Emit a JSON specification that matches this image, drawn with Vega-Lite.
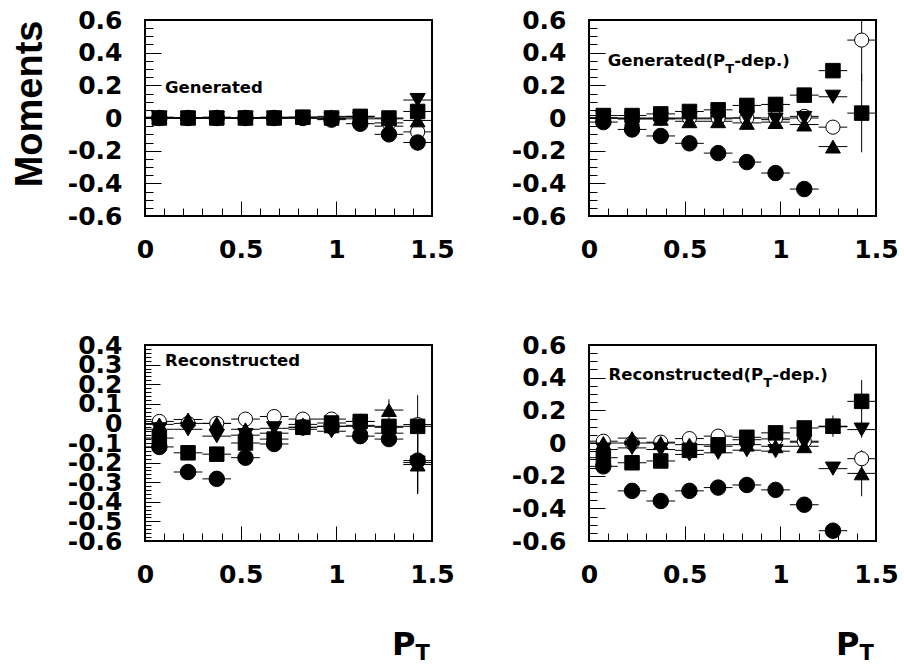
{
  "$schema": "https://vega.github.io/schema/vega-lite/v6.json",
  "padding": {"left": 9, "top": 7, "right": 5, "bottom": 5},
  "background": "white",
  "bounds": "flush",
  "columns": 2,
  "spacing": {"row": 129, "column": 157},
  "config": {
    "view": {"stroke": "black", "strokeWidth": 2},
    "axis": {
      "labelFont": "DejaVu Sans",
      "labelFontSize": 25,
      "labelFontWeight": "bold",
      "labelColor": "black",
      "tickColor": "black",
      "tickWidth": 1,
      "grid": false,
      "domain": false,
      "titleColor": "black",
      "titleFontWeight": "bold"
    },
    "text": {"font": "DejaVu Sans", "fontWeight": "bold", "color": "black"}
  },
  "datasets": {
    "moments": [
      {"panel":"gen","series":"open","pt":0.075,"dpt":0.075,"v":0,"err":0.005},
      {"panel":"gen","series":"open","pt":0.225,"dpt":0.075,"v":0,"err":0.005},
      {"panel":"gen","series":"open","pt":0.375,"dpt":0.075,"v":0,"err":0.005},
      {"panel":"gen","series":"open","pt":0.525,"dpt":0.075,"v":0,"err":0.005},
      {"panel":"gen","series":"open","pt":0.675,"dpt":0.075,"v":0,"err":0.005},
      {"panel":"gen","series":"open","pt":0.825,"dpt":0.075,"v":0,"err":0.005},
      {"panel":"gen","series":"open","pt":0.975,"dpt":0.075,"v":0,"err":0.005},
      {"panel":"gen","series":"open","pt":1.125,"dpt":0.075,"v":0.005,"err":0.01},
      {"panel":"gen","series":"open","pt":1.275,"dpt":0.075,"v":-0.03,"err":0.02},
      {"panel":"gen","series":"open","pt":1.425,"dpt":0.075,"v":-0.085,"err":0.04},
      {"panel":"genpt","series":"open","pt":0.075,"dpt":0.075,"v":0,"err":0.005},
      {"panel":"genpt","series":"open","pt":0.225,"dpt":0.075,"v":0,"err":0.005},
      {"panel":"genpt","series":"open","pt":0.375,"dpt":0.075,"v":0,"err":0.005},
      {"panel":"genpt","series":"open","pt":0.525,"dpt":0.075,"v":0,"err":0.005},
      {"panel":"genpt","series":"open","pt":0.675,"dpt":0.075,"v":0,"err":0.005},
      {"panel":"genpt","series":"open","pt":0.825,"dpt":0.075,"v":0,"err":0.005},
      {"panel":"genpt","series":"open","pt":0.975,"dpt":0.075,"v":0,"err":0.005},
      {"panel":"genpt","series":"open","pt":1.125,"dpt":0.075,"v":0.01,"err":0.008},
      {"panel":"genpt","series":"open","pt":1.275,"dpt":0.075,"v":-0.056,"err":0.03},
      {"panel":"genpt","series":"open","pt":1.425,"dpt":0.075,"v":0.477,"err":0.25},
      {"panel":"rec","series":"open","pt":0.075,"dpt":0.075,"v":0.01,"err":0.008},
      {"panel":"rec","series":"open","pt":0.225,"dpt":0.075,"v":0,"err":0.008},
      {"panel":"rec","series":"open","pt":0.375,"dpt":0.075,"v":0,"err":0.008},
      {"panel":"rec","series":"open","pt":0.525,"dpt":0.075,"v":0.022,"err":0.008},
      {"panel":"rec","series":"open","pt":0.675,"dpt":0.075,"v":0.035,"err":0.008},
      {"panel":"rec","series":"open","pt":0.825,"dpt":0.075,"v":0.022,"err":0.008},
      {"panel":"rec","series":"open","pt":0.975,"dpt":0.075,"v":0.022,"err":0.008},
      {"panel":"rec","series":"open","pt":1.125,"dpt":0.075,"v":0.01,"err":0.008},
      {"panel":"rec","series":"open","pt":1.275,"dpt":0.075,"v":-0.02,"err":0.02},
      {"panel":"rec","series":"open","pt":1.425,"dpt":0.075,"v":-0.006,"err":0.15},
      {"panel":"recpt","series":"open","pt":0.075,"dpt":0.075,"v":0.011,"err":0.008},
      {"panel":"recpt","series":"open","pt":0.225,"dpt":0.075,"v":0,"err":0.008},
      {"panel":"recpt","series":"open","pt":0.375,"dpt":0.075,"v":0.005,"err":0.008},
      {"panel":"recpt","series":"open","pt":0.525,"dpt":0.075,"v":0.027,"err":0.008},
      {"panel":"recpt","series":"open","pt":0.675,"dpt":0.075,"v":0.042,"err":0.008},
      {"panel":"recpt","series":"open","pt":0.825,"dpt":0.075,"v":0.02,"err":0.008},
      {"panel":"recpt","series":"open","pt":0.975,"dpt":0.075,"v":0.025,"err":0.008},
      {"panel":"recpt","series":"open","pt":1.125,"dpt":0.075,"v":0.011,"err":0.008},
      {"panel":"recpt","series":"open","pt":1.275,"dpt":0.075,"v":0.1,"err":0.02},
      {"panel":"recpt","series":"open","pt":1.425,"dpt":0.075,"v":-0.096,"err":0.05},

      {"panel":"gen","series":"square","pt":0.075,"dpt":0.075,"v":0,"err":0.005},
      {"panel":"gen","series":"square","pt":0.225,"dpt":0.075,"v":0,"err":0.005},
      {"panel":"gen","series":"square","pt":0.375,"dpt":0.075,"v":0,"err":0.005},
      {"panel":"gen","series":"square","pt":0.525,"dpt":0.075,"v":0,"err":0.005},
      {"panel":"gen","series":"square","pt":0.675,"dpt":0.075,"v":0,"err":0.005},
      {"panel":"gen","series":"square","pt":0.825,"dpt":0.075,"v":0.005,"err":0.005},
      {"panel":"gen","series":"square","pt":0.975,"dpt":0.075,"v":0,"err":0.005},
      {"panel":"gen","series":"square","pt":1.125,"dpt":0.075,"v":0.01,"err":0.01},
      {"panel":"gen","series":"square","pt":1.275,"dpt":0.075,"v":0,"err":0.015},
      {"panel":"gen","series":"square","pt":1.425,"dpt":0.075,"v":0.04,"err":0.03},
      {"panel":"genpt","series":"square","pt":0.075,"dpt":0.075,"v":0.015,"err":0.005},
      {"panel":"genpt","series":"square","pt":0.225,"dpt":0.075,"v":0.015,"err":0.005},
      {"panel":"genpt","series":"square","pt":0.375,"dpt":0.075,"v":0.025,"err":0.005},
      {"panel":"genpt","series":"square","pt":0.525,"dpt":0.075,"v":0.04,"err":0.005},
      {"panel":"genpt","series":"square","pt":0.675,"dpt":0.075,"v":0.05,"err":0.005},
      {"panel":"genpt","series":"square","pt":0.825,"dpt":0.075,"v":0.077,"err":0.008},
      {"panel":"genpt","series":"square","pt":0.975,"dpt":0.075,"v":0.083,"err":0.008},
      {"panel":"genpt","series":"square","pt":1.125,"dpt":0.075,"v":0.14,"err":0.01},
      {"panel":"genpt","series":"square","pt":1.275,"dpt":0.075,"v":0.29,"err":0.03},
      {"panel":"genpt","series":"square","pt":1.425,"dpt":0.075,"v":0.03,"err":0.24},
      {"panel":"rec","series":"square","pt":0.075,"dpt":0.075,"v":-0.075,"err":0.008},
      {"panel":"rec","series":"square","pt":0.225,"dpt":0.075,"v":-0.15,"err":0.008},
      {"panel":"rec","series":"square","pt":0.375,"dpt":0.075,"v":-0.157,"err":0.008},
      {"panel":"rec","series":"square","pt":0.525,"dpt":0.075,"v":-0.1,"err":0.008},
      {"panel":"rec","series":"square","pt":0.675,"dpt":0.075,"v":-0.08,"err":0.008},
      {"panel":"rec","series":"square","pt":0.825,"dpt":0.075,"v":-0.02,"err":0.008},
      {"panel":"rec","series":"square","pt":0.975,"dpt":0.075,"v":0.002,"err":0.008},
      {"panel":"rec","series":"square","pt":1.125,"dpt":0.075,"v":0.01,"err":0.008},
      {"panel":"rec","series":"square","pt":1.275,"dpt":0.075,"v":-0.015,"err":0.015},
      {"panel":"rec","series":"square","pt":1.425,"dpt":0.075,"v":-0.015,"err":0.03},
      {"panel":"recpt","series":"square","pt":0.075,"dpt":0.075,"v":-0.09,"err":0.008},
      {"panel":"recpt","series":"square","pt":0.225,"dpt":0.075,"v":-0.121,"err":0.008},
      {"panel":"recpt","series":"square","pt":0.375,"dpt":0.075,"v":-0.11,"err":0.008},
      {"panel":"recpt","series":"square","pt":0.525,"dpt":0.075,"v":-0.045,"err":0.008},
      {"panel":"recpt","series":"square","pt":0.675,"dpt":0.075,"v":-0.011,"err":0.008},
      {"panel":"recpt","series":"square","pt":0.825,"dpt":0.075,"v":0.035,"err":0.008},
      {"panel":"recpt","series":"square","pt":0.975,"dpt":0.075,"v":0.062,"err":0.008},
      {"panel":"recpt","series":"square","pt":1.125,"dpt":0.075,"v":0.092,"err":0.01},
      {"panel":"recpt","series":"square","pt":1.275,"dpt":0.075,"v":0.103,"err":0.065},
      {"panel":"recpt","series":"square","pt":1.425,"dpt":0.075,"v":0.255,"err":0.13},

      {"panel":"gen","series":"up","pt":0.075,"dpt":0.075,"v":0.005,"err":0.005},
      {"panel":"gen","series":"up","pt":0.225,"dpt":0.075,"v":0,"err":0.005},
      {"panel":"gen","series":"up","pt":0.375,"dpt":0.075,"v":0.005,"err":0.005},
      {"panel":"gen","series":"up","pt":0.525,"dpt":0.075,"v":0,"err":0.005},
      {"panel":"gen","series":"up","pt":0.675,"dpt":0.075,"v":0.005,"err":0.005},
      {"panel":"gen","series":"up","pt":0.825,"dpt":0.075,"v":0.005,"err":0.005},
      {"panel":"gen","series":"up","pt":0.975,"dpt":0.075,"v":0.01,"err":0.005},
      {"panel":"gen","series":"up","pt":1.125,"dpt":0.075,"v":0.01,"err":0.01},
      {"panel":"gen","series":"up","pt":1.275,"dpt":0.075,"v":-0.005,"err":0.015},
      {"panel":"gen","series":"up","pt":1.425,"dpt":0.075,"v":-0.015,"err":0.03},
      {"panel":"genpt","series":"up","pt":0.075,"dpt":0.075,"v":0,"err":0.005},
      {"panel":"genpt","series":"up","pt":0.225,"dpt":0.075,"v":-0.005,"err":0.005},
      {"panel":"genpt","series":"up","pt":0.375,"dpt":0.075,"v":-0.005,"err":0.005},
      {"panel":"genpt","series":"up","pt":0.525,"dpt":0.075,"v":-0.02,"err":0.005},
      {"panel":"genpt","series":"up","pt":0.675,"dpt":0.075,"v":-0.02,"err":0.005},
      {"panel":"genpt","series":"up","pt":0.825,"dpt":0.075,"v":-0.03,"err":0.008},
      {"panel":"genpt","series":"up","pt":0.975,"dpt":0.075,"v":-0.025,"err":0.008},
      {"panel":"genpt","series":"up","pt":1.125,"dpt":0.075,"v":-0.04,"err":0.01},
      {"panel":"genpt","series":"up","pt":1.275,"dpt":0.075,"v":-0.175,"err":0.03},
      {"panel":"rec","series":"up","pt":0.075,"dpt":0.075,"v":-0.005,"err":0.008},
      {"panel":"rec","series":"up","pt":0.225,"dpt":0.075,"v":0.02,"err":0.008},
      {"panel":"rec","series":"up","pt":0.375,"dpt":0.075,"v":0,"err":0.008},
      {"panel":"rec","series":"up","pt":0.525,"dpt":0.075,"v":-0.03,"err":0.008},
      {"panel":"rec","series":"up","pt":0.675,"dpt":0.075,"v":-0.05,"err":0.008},
      {"panel":"rec","series":"up","pt":0.825,"dpt":0.075,"v":-0.005,"err":0.008},
      {"panel":"rec","series":"up","pt":0.975,"dpt":0.075,"v":-0.015,"err":0.008},
      {"panel":"rec","series":"up","pt":1.125,"dpt":0.075,"v":-0.015,"err":0.008},
      {"panel":"rec","series":"up","pt":1.275,"dpt":0.075,"v":0.068,"err":0.055},
      {"panel":"rec","series":"up","pt":1.425,"dpt":0.075,"v":-0.21,"err":0.15},
      {"panel":"recpt","series":"up","pt":0.075,"dpt":0.075,"v":0,"err":0.008},
      {"panel":"recpt","series":"up","pt":0.225,"dpt":0.075,"v":0.03,"err":0.008},
      {"panel":"recpt","series":"up","pt":0.375,"dpt":0.075,"v":0,"err":0.008},
      {"panel":"recpt","series":"up","pt":0.525,"dpt":0.075,"v":-0.01,"err":0.008},
      {"panel":"recpt","series":"up","pt":0.675,"dpt":0.075,"v":-0.02,"err":0.008},
      {"panel":"recpt","series":"up","pt":0.825,"dpt":0.075,"v":-0.01,"err":0.008},
      {"panel":"recpt","series":"up","pt":0.975,"dpt":0.075,"v":-0.02,"err":0.008},
      {"panel":"recpt","series":"up","pt":1.125,"dpt":0.075,"v":-0.02,"err":0.01},
      {"panel":"recpt","series":"up","pt":1.275,"dpt":0.075,"v":0.1,"err":0.02},
      {"panel":"recpt","series":"up","pt":1.425,"dpt":0.075,"v":-0.186,"err":0.14},

      {"panel":"gen","series":"down","pt":0.075,"dpt":0.075,"v":0,"err":0.005},
      {"panel":"gen","series":"down","pt":0.225,"dpt":0.075,"v":0,"err":0.005},
      {"panel":"gen","series":"down","pt":0.375,"dpt":0.075,"v":0,"err":0.005},
      {"panel":"gen","series":"down","pt":0.525,"dpt":0.075,"v":0,"err":0.005},
      {"panel":"gen","series":"down","pt":0.675,"dpt":0.075,"v":0,"err":0.005},
      {"panel":"gen","series":"down","pt":0.825,"dpt":0.075,"v":0,"err":0.005},
      {"panel":"gen","series":"down","pt":0.975,"dpt":0.075,"v":-0.005,"err":0.005},
      {"panel":"gen","series":"down","pt":1.125,"dpt":0.075,"v":-0.005,"err":0.01},
      {"panel":"gen","series":"down","pt":1.275,"dpt":0.075,"v":-0.05,"err":0.015},
      {"panel":"gen","series":"down","pt":1.425,"dpt":0.075,"v":0.11,"err":0.03},
      {"panel":"genpt","series":"down","pt":0.075,"dpt":0.075,"v":0,"err":0.005},
      {"panel":"genpt","series":"down","pt":0.225,"dpt":0.075,"v":-0.005,"err":0.005},
      {"panel":"genpt","series":"down","pt":0.375,"dpt":0.075,"v":-0.005,"err":0.005},
      {"panel":"genpt","series":"down","pt":0.525,"dpt":0.075,"v":-0.005,"err":0.005},
      {"panel":"genpt","series":"down","pt":0.675,"dpt":0.075,"v":-0.005,"err":0.005},
      {"panel":"genpt","series":"down","pt":0.825,"dpt":0.075,"v":0,"err":0.008},
      {"panel":"genpt","series":"down","pt":0.975,"dpt":0.075,"v":-0.01,"err":0.008},
      {"panel":"genpt","series":"down","pt":1.125,"dpt":0.075,"v":0,"err":0.01},
      {"panel":"genpt","series":"down","pt":1.275,"dpt":0.075,"v":0.13,"err":0.03},
      {"panel":"rec","series":"down","pt":0.075,"dpt":0.075,"v":-0.03,"err":0.008},
      {"panel":"rec","series":"down","pt":0.225,"dpt":0.075,"v":-0.03,"err":0.008},
      {"panel":"rec","series":"down","pt":0.375,"dpt":0.075,"v":-0.065,"err":0.008},
      {"panel":"rec","series":"down","pt":0.525,"dpt":0.075,"v":-0.06,"err":0.008},
      {"panel":"rec","series":"down","pt":0.675,"dpt":0.075,"v":-0.025,"err":0.008},
      {"panel":"rec","series":"down","pt":0.825,"dpt":0.075,"v":-0.03,"err":0.008},
      {"panel":"rec","series":"down","pt":0.975,"dpt":0.075,"v":-0.04,"err":0.008},
      {"panel":"rec","series":"down","pt":1.125,"dpt":0.075,"v":-0.01,"err":0.008},
      {"panel":"rec","series":"down","pt":1.275,"dpt":0.075,"v":-0.05,"err":0.015},
      {"panel":"rec","series":"down","pt":1.425,"dpt":0.075,"v":-0.2,"err":0.15},
      {"panel":"recpt","series":"down","pt":0.075,"dpt":0.075,"v":-0.04,"err":0.008},
      {"panel":"recpt","series":"down","pt":0.225,"dpt":0.075,"v":-0.03,"err":0.008},
      {"panel":"recpt","series":"down","pt":0.375,"dpt":0.075,"v":-0.04,"err":0.008},
      {"panel":"recpt","series":"down","pt":0.525,"dpt":0.075,"v":-0.07,"err":0.008},
      {"panel":"recpt","series":"down","pt":0.675,"dpt":0.075,"v":-0.06,"err":0.008},
      {"panel":"recpt","series":"down","pt":0.825,"dpt":0.075,"v":-0.044,"err":0.008},
      {"panel":"recpt","series":"down","pt":0.975,"dpt":0.075,"v":-0.05,"err":0.008},
      {"panel":"recpt","series":"down","pt":1.125,"dpt":0.075,"v":0.005,"err":0.01},
      {"panel":"recpt","series":"down","pt":1.275,"dpt":0.075,"v":-0.157,"err":0.03},
      {"panel":"recpt","series":"down","pt":1.425,"dpt":0.075,"v":0.082,"err":0.05},

      {"panel":"gen","series":"circle","pt":0.075,"dpt":0.075,"v":0,"err":0.005},
      {"panel":"gen","series":"circle","pt":0.225,"dpt":0.075,"v":0,"err":0.005},
      {"panel":"gen","series":"circle","pt":0.375,"dpt":0.075,"v":0,"err":0.005},
      {"panel":"gen","series":"circle","pt":0.525,"dpt":0.075,"v":0,"err":0.005},
      {"panel":"gen","series":"circle","pt":0.675,"dpt":0.075,"v":0,"err":0.005},
      {"panel":"gen","series":"circle","pt":0.825,"dpt":0.075,"v":0,"err":0.005},
      {"panel":"gen","series":"circle","pt":0.975,"dpt":0.075,"v":-0.01,"err":0.005},
      {"panel":"gen","series":"circle","pt":1.125,"dpt":0.075,"v":-0.035,"err":0.01},
      {"panel":"gen","series":"circle","pt":1.275,"dpt":0.075,"v":-0.1,"err":0.02},
      {"panel":"gen","series":"circle","pt":1.425,"dpt":0.075,"v":-0.15,"err":0.05},
      {"panel":"genpt","series":"circle","pt":0.075,"dpt":0.075,"v":-0.025,"err":0.005},
      {"panel":"genpt","series":"circle","pt":0.225,"dpt":0.075,"v":-0.07,"err":0.005},
      {"panel":"genpt","series":"circle","pt":0.375,"dpt":0.075,"v":-0.11,"err":0.005},
      {"panel":"genpt","series":"circle","pt":0.525,"dpt":0.075,"v":-0.155,"err":0.005},
      {"panel":"genpt","series":"circle","pt":0.675,"dpt":0.075,"v":-0.215,"err":0.005},
      {"panel":"genpt","series":"circle","pt":0.825,"dpt":0.075,"v":-0.27,"err":0.008},
      {"panel":"genpt","series":"circle","pt":0.975,"dpt":0.075,"v":-0.337,"err":0.008},
      {"panel":"genpt","series":"circle","pt":1.125,"dpt":0.075,"v":-0.435,"err":0.01},
      {"panel":"rec","series":"circle","pt":0.075,"dpt":0.075,"v":-0.12,"err":0.008},
      {"panel":"rec","series":"circle","pt":0.225,"dpt":0.075,"v":-0.248,"err":0.008},
      {"panel":"rec","series":"circle","pt":0.375,"dpt":0.075,"v":-0.283,"err":0.008},
      {"panel":"rec","series":"circle","pt":0.525,"dpt":0.075,"v":-0.175,"err":0.008},
      {"panel":"rec","series":"circle","pt":0.675,"dpt":0.075,"v":-0.105,"err":0.008},
      {"panel":"rec","series":"circle","pt":0.825,"dpt":0.075,"v":-0.02,"err":0.008},
      {"panel":"rec","series":"circle","pt":0.975,"dpt":0.075,"v":-0.015,"err":0.008},
      {"panel":"rec","series":"circle","pt":1.125,"dpt":0.075,"v":-0.065,"err":0.008},
      {"panel":"rec","series":"circle","pt":1.275,"dpt":0.075,"v":-0.08,"err":0.015},
      {"panel":"rec","series":"circle","pt":1.425,"dpt":0.075,"v":-0.19,"err":0.17},
      {"panel":"recpt","series":"circle","pt":0.075,"dpt":0.075,"v":-0.143,"err":0.008},
      {"panel":"recpt","series":"circle","pt":0.225,"dpt":0.075,"v":-0.293,"err":0.008},
      {"panel":"recpt","series":"circle","pt":0.375,"dpt":0.075,"v":-0.355,"err":0.008},
      {"panel":"recpt","series":"circle","pt":0.525,"dpt":0.075,"v":-0.293,"err":0.008},
      {"panel":"recpt","series":"circle","pt":0.675,"dpt":0.075,"v":-0.273,"err":0.008},
      {"panel":"recpt","series":"circle","pt":0.825,"dpt":0.075,"v":-0.257,"err":0.008},
      {"panel":"recpt","series":"circle","pt":0.975,"dpt":0.075,"v":-0.287,"err":0.008},
      {"panel":"recpt","series":"circle","pt":1.125,"dpt":0.075,"v":-0.378,"err":0.01},
      {"panel":"recpt","series":"circle","pt":1.275,"dpt":0.075,"v":-0.537,"err":0.02}
    ]
  },
  "concat": [
    {
      "width": 287, "height": 196,
      "data": {"name": "moments"},
      "resolve": {"axis": {"x": "independent", "y": "independent"}},
      "layer": [
        {
          "transform": [{"filter": {"field": "panel", "equal": "gen"}}],
          "mark": {"type": "errorbar", "color": "black", "thickness": 1, "clip": true},
          "encoding": {
            "x": {"field": "pt", "type": "quantitative", "scale": {"domain": [0, 1.5], "nice": false, "zero": false},
                  "axis": {"orient": "bottom", "values": [0, 0.5, 1, 1.5], "labelExpr": "'' + datum.value", "ticks": false, "labelPadding": 21, "labelBaseline": "top", "labelOverlap": false, "labelFlush": false, "title": null}},
            "xError": {"field": "dpt"},
            "y": {"field": "v", "type": "quantitative", "scale": {"domain": [-0.6, 0.6], "nice": false, "zero": false},
                  "axis": {"orient": "left", "values": [-0.6, -0.4, -0.2, 0, 0.2, 0.4, 0.6], "labelExpr": "'' + datum.value", "ticks": false, "labelPadding": 23, "labelAlign": "right", "labelBaseline": "middle", "labelOverlap": false, "labelFlush": false,
                           "title": "Moments", "titleFont": "Liberation Sans", "titleFontSize": 38, "titleAngle": -90, "titleAlign": "right", "titleBaseline": "alphabetic", "titleX": -104, "titleY": 0}}
          }
        },
        {
          "transform": [{"filter": {"field": "panel", "equal": "gen"}}],
          "mark": {"type": "errorbar", "color": "black", "thickness": 1, "clip": true},
          "encoding": {
            "x": {"field": "pt", "type": "quantitative", "scale": {"domain": [0, 1.5], "nice": false, "zero": false},
                  "axis": {"orient": "bottom", "values": [0, 0.5, 1, 1.5], "labels": false, "tickSize": 15, "offset": -15, "title": null}},
            "y": {"field": "v", "type": "quantitative", "scale": {"domain": [-0.6, 0.6], "nice": false, "zero": false},
                  "axis": {"orient": "left", "values": [-0.6, -0.4, -0.2, 0, 0.2, 0.4, 0.6], "labels": false, "tickSize": 16, "offset": -16, "title": null}},
            "yError": {"field": "err"}
          }
        },
        {
          "transform": [{"filter": {"field": "panel", "equal": "gen"}}],
          "mark": {"type": "point", "filled": true, "opacity": 1, "stroke": "black", "strokeWidth": 1},
          "encoding": {
            "x": {"field": "pt", "type": "quantitative", "scale": {"domain": [0, 1.5], "nice": false, "zero": false},
                  "axis": {"orient": "bottom", "values": [0.1, 0.2, 0.3, 0.4, 0.6, 0.7, 0.8, 0.9, 1.1, 1.2, 1.3, 1.4], "labels": false, "tickSize": 8, "offset": -8, "title": null}},
            "y": {"field": "v", "type": "quantitative", "scale": {"domain": [-0.6, 0.6], "nice": false, "zero": false},
                  "axis": {"orient": "left", "values": [-0.55, -0.5, -0.45, -0.35, -0.3, -0.25, -0.15, -0.1, -0.05, 0.05, 0.1, 0.15, 0.25, 0.3, 0.35, 0.45, 0.5, 0.55], "labels": false, "tickSize": 8, "offset": -8, "title": null}},
            "shape": {"field": "series", "scale": {"domain": ["open", "square", "up", "down", "circle"], "range": ["circle", "square", "triangle-up", "triangle-down", "circle"]}, "legend": null},
            "fill": {"field": "series", "scale": {"domain": ["open", "square", "up", "down", "circle"], "range": ["white", "black", "black", "black", "black"]}, "legend": null},
            "size": {"field": "series", "scale": {"domain": ["open", "square", "up", "down", "circle"], "range": [200, 240, 210, 210, 180]}, "legend": null}
          }
        },
        {
          "data": {"values": [{"label": "Generated"}]},
          "mark": {"type": "text", "align": "left", "baseline": "alphabetic", "fontSize": 16.5},
          "encoding": {
            "x": {"datum": 0.1045, "type": "quantitative", "scale": {"domain": [0, 1.5], "nice": false, "zero": false}, "axis": null},
            "y": {"datum": 0.155, "type": "quantitative", "scale": {"domain": [-0.6, 0.6], "nice": false, "zero": false}, "axis": null},
            "text": {"field": "label"}
          }
        }
      ]
    },
    {
      "width": 287, "height": 196,
      "data": {"name": "moments"},
      "resolve": {"axis": {"x": "independent", "y": "independent"}},
      "layer": [
        {
          "transform": [{"filter": {"field": "panel", "equal": "genpt"}}],
          "mark": {"type": "errorbar", "color": "black", "thickness": 1, "clip": true},
          "encoding": {
            "x": {"field": "pt", "type": "quantitative", "scale": {"domain": [0, 1.5], "nice": false, "zero": false},
                  "axis": {"orient": "bottom", "values": [0, 0.5, 1, 1.5], "labelExpr": "'' + datum.value", "ticks": false, "labelPadding": 21, "labelBaseline": "top", "labelOverlap": false, "labelFlush": false, "title": null}},
            "xError": {"field": "dpt"},
            "y": {"field": "v", "type": "quantitative", "scale": {"domain": [-0.6, 0.6], "nice": false, "zero": false},
                  "axis": {"orient": "left", "values": [-0.6, -0.4, -0.2, 0, 0.2, 0.4, 0.6], "labelExpr": "'' + datum.value", "ticks": false, "labelPadding": 23, "labelAlign": "right", "labelBaseline": "middle", "labelOverlap": false, "labelFlush": false, "title": null}}
          }
        },
        {
          "transform": [{"filter": {"field": "panel", "equal": "genpt"}}],
          "mark": {"type": "errorbar", "color": "black", "thickness": 1, "clip": true},
          "encoding": {
            "x": {"field": "pt", "type": "quantitative", "scale": {"domain": [0, 1.5], "nice": false, "zero": false},
                  "axis": {"orient": "bottom", "values": [0, 0.5, 1, 1.5], "labels": false, "tickSize": 15, "offset": -15, "title": null}},
            "y": {"field": "v", "type": "quantitative", "scale": {"domain": [-0.6, 0.6], "nice": false, "zero": false},
                  "axis": {"orient": "left", "values": [-0.6, -0.4, -0.2, 0, 0.2, 0.4, 0.6], "labels": false, "tickSize": 16, "offset": -16, "title": null}},
            "yError": {"field": "err"}
          }
        },
        {
          "transform": [{"filter": {"field": "panel", "equal": "genpt"}}],
          "mark": {"type": "point", "filled": true, "opacity": 1, "stroke": "black", "strokeWidth": 1},
          "encoding": {
            "x": {"field": "pt", "type": "quantitative", "scale": {"domain": [0, 1.5], "nice": false, "zero": false},
                  "axis": {"orient": "bottom", "values": [0.1, 0.2, 0.3, 0.4, 0.6, 0.7, 0.8, 0.9, 1.1, 1.2, 1.3, 1.4], "labels": false, "tickSize": 8, "offset": -8, "title": null}},
            "y": {"field": "v", "type": "quantitative", "scale": {"domain": [-0.6, 0.6], "nice": false, "zero": false},
                  "axis": {"orient": "left", "values": [-0.55, -0.5, -0.45, -0.35, -0.3, -0.25, -0.15, -0.1, -0.05, 0.05, 0.1, 0.15, 0.25, 0.3, 0.35, 0.45, 0.5, 0.55], "labels": false, "tickSize": 8, "offset": -8, "title": null}},
            "shape": {"field": "series", "scale": {"domain": ["open", "square", "up", "down", "circle"], "range": ["circle", "square", "triangle-up", "triangle-down", "circle"]}, "legend": null},
            "fill": {"field": "series", "scale": {"domain": ["open", "square", "up", "down", "circle"], "range": ["white", "black", "black", "black", "black"]}, "legend": null},
            "size": {"field": "series", "scale": {"domain": ["open", "square", "up", "down", "circle"], "range": [200, 240, 210, 210, 180]}, "legend": null}
          }
        },
        {
          "data": {"values": [{"label": "Generated(P"}]},
          "mark": {"type": "text", "align": "left", "baseline": "alphabetic", "fontSize": 16.5},
          "encoding": {
            "x": {"datum": 0.098, "type": "quantitative", "scale": {"domain": [0, 1.5], "nice": false, "zero": false}, "axis": null},
            "y": {"datum": 0.318, "type": "quantitative", "scale": {"domain": [-0.6, 0.6], "nice": false, "zero": false}, "axis": null},
            "text": {"field": "label"}
          }
        },
        {
          "data": {"values": [{"label": "T"}]},
          "mark": {"type": "text", "align": "left", "baseline": "alphabetic", "fontSize": 13},
          "encoding": {
            "x": {"datum": 0.712, "type": "quantitative", "scale": {"domain": [0, 1.5], "nice": false, "zero": false}, "axis": null},
            "y": {"datum": 0.275, "type": "quantitative", "scale": {"domain": [-0.6, 0.6], "nice": false, "zero": false}, "axis": null},
            "text": {"field": "label"}
          }
        },
        {
          "data": {"values": [{"label": "-dep.)"}]},
          "mark": {"type": "text", "align": "left", "baseline": "alphabetic", "fontSize": 16.5},
          "encoding": {
            "x": {"datum": 0.759, "type": "quantitative", "scale": {"domain": [0, 1.5], "nice": false, "zero": false}, "axis": null},
            "y": {"datum": 0.318, "type": "quantitative", "scale": {"domain": [-0.6, 0.6], "nice": false, "zero": false}, "axis": null},
            "text": {"field": "label"}
          }
        }
      ]
    },
    {
      "width": 287, "height": 196,
      "data": {"name": "moments"},
      "resolve": {"axis": {"x": "independent", "y": "independent"}},
      "layer": [
        {
          "transform": [{"filter": {"field": "panel", "equal": "rec"}}],
          "mark": {"type": "errorbar", "color": "black", "thickness": 1, "clip": true},
          "encoding": {
            "x": {"field": "pt", "type": "quantitative", "scale": {"domain": [0, 1.5], "nice": false, "zero": false},
                  "axis": {"orient": "bottom", "values": [0, 0.5, 1, 1.5], "labelExpr": "'' + datum.value", "ticks": false, "labelPadding": 21, "labelBaseline": "top", "labelOverlap": false, "labelFlush": false,
                           "title": "P", "titleFont": "DejaVu Sans", "titleFontSize": 32, "titleAlign": "left", "titleBaseline": "alphabetic", "titleX": 246.5, "titleY": 113}},
            "xError": {"field": "dpt"},
            "y": {"field": "v", "type": "quantitative", "scale": {"domain": [-0.6, 0.4], "nice": false, "zero": false},
                  "axis": {"orient": "left", "values": [-0.6, -0.5, -0.4, -0.3, -0.2, -0.1, 0, 0.1, 0.2, 0.3, 0.4], "labelExpr": "'' + datum.value", "ticks": false, "labelPadding": 23, "labelAlign": "right", "labelBaseline": "middle", "labelOverlap": false, "labelFlush": false, "title": null}}
          }
        },
        {
          "transform": [{"filter": {"field": "panel", "equal": "rec"}}],
          "mark": {"type": "errorbar", "color": "black", "thickness": 1, "clip": true},
          "encoding": {
            "x": {"field": "pt", "type": "quantitative", "scale": {"domain": [0, 1.5], "nice": false, "zero": false},
                  "axis": {"orient": "bottom", "values": [0, 0.5, 1, 1.5], "labels": false, "tickSize": 15, "offset": -15, "title": null}},
            "y": {"field": "v", "type": "quantitative", "scale": {"domain": [-0.6, 0.4], "nice": false, "zero": false},
                  "axis": {"orient": "left", "values": [-0.6, -0.5, -0.4, -0.3, -0.2, -0.1, 0, 0.1, 0.2, 0.3, 0.4], "labels": false, "tickSize": 15, "offset": -15, "title": null}},
            "yError": {"field": "err"}
          }
        },
        {
          "transform": [{"filter": {"field": "panel", "equal": "rec"}}],
          "mark": {"type": "point", "filled": true, "opacity": 1, "stroke": "black", "strokeWidth": 1},
          "encoding": {
            "x": {"field": "pt", "type": "quantitative", "scale": {"domain": [0, 1.5], "nice": false, "zero": false},
                  "axis": {"orient": "bottom", "values": [0.1, 0.2, 0.3, 0.4, 0.6, 0.7, 0.8, 0.9, 1.1, 1.2, 1.3, 1.4], "labels": false, "tickSize": 8, "offset": -8, "title": null}},
            "y": {"field": "v", "type": "quantitative", "scale": {"domain": [-0.6, 0.4], "nice": false, "zero": false},
                  "axis": {"orient": "left", "values": [-0.58, -0.56, -0.54, -0.52, -0.48, -0.46, -0.44, -0.42, -0.38, -0.36, -0.34, -0.32, -0.28, -0.26, -0.24, -0.22, -0.18, -0.16, -0.14, -0.12, -0.08, -0.06, -0.04, -0.02, 0.02, 0.04, 0.06, 0.08, 0.12, 0.14, 0.16, 0.18, 0.22, 0.24, 0.26, 0.28, 0.32, 0.34, 0.36, 0.38], "labels": false, "tickSize": 6, "offset": -6, "title": null}},
            "shape": {"field": "series", "scale": {"domain": ["open", "square", "up", "down", "circle"], "range": ["circle", "square", "triangle-up", "triangle-down", "circle"]}, "legend": null},
            "fill": {"field": "series", "scale": {"domain": ["open", "square", "up", "down", "circle"], "range": ["white", "black", "black", "black", "black"]}, "legend": null},
            "size": {"field": "series", "scale": {"domain": ["open", "square", "up", "down", "circle"], "range": [200, 240, 210, 210, 180]}, "legend": null}
          }
        },
        {
          "data": {"values": [{"label": "Reconstructed"}]},
          "mark": {"type": "text", "align": "left", "baseline": "alphabetic", "fontSize": 16.5},
          "encoding": {
            "x": {"datum": 0.1045, "type": "quantitative", "scale": {"domain": [0, 1.5], "nice": false, "zero": false}, "axis": null},
            "y": {"datum": 0.293, "type": "quantitative", "scale": {"domain": [-0.6, 0.4], "nice": false, "zero": false}, "axis": null},
            "text": {"field": "label"}
          }
        },
        {
          "data": {"values": [{"label": "T"}]},
          "mark": {"type": "text", "align": "left", "baseline": "alphabetic", "fontSize": 21},
          "encoding": {
            "x": {"datum": 1.414, "type": "quantitative", "scale": {"domain": [0, 1.5], "nice": false, "zero": false}, "axis": null},
            "y": {"datum": -1.207, "type": "quantitative", "scale": {"domain": [-0.6, 0.4], "nice": false, "zero": false}, "axis": null},
            "text": {"field": "label"}
          }
        }
      ]
    },
    {
      "width": 287, "height": 196,
      "data": {"name": "moments"},
      "resolve": {"axis": {"x": "independent", "y": "independent"}},
      "layer": [
        {
          "transform": [{"filter": {"field": "panel", "equal": "recpt"}}],
          "mark": {"type": "errorbar", "color": "black", "thickness": 1, "clip": true},
          "encoding": {
            "x": {"field": "pt", "type": "quantitative", "scale": {"domain": [0, 1.5], "nice": false, "zero": false},
                  "axis": {"orient": "bottom", "values": [0, 0.5, 1, 1.5], "labelExpr": "'' + datum.value", "ticks": false, "labelPadding": 21, "labelBaseline": "top", "labelOverlap": false, "labelFlush": false,
                           "title": "P", "titleFont": "DejaVu Sans", "titleFontSize": 32, "titleAlign": "left", "titleBaseline": "alphabetic", "titleX": 246.5, "titleY": 113}},
            "xError": {"field": "dpt"},
            "y": {"field": "v", "type": "quantitative", "scale": {"domain": [-0.6, 0.6], "nice": false, "zero": false},
                  "axis": {"orient": "left", "values": [-0.6, -0.4, -0.2, 0, 0.2, 0.4, 0.6], "labelExpr": "'' + datum.value", "ticks": false, "labelPadding": 23, "labelAlign": "right", "labelBaseline": "middle", "labelOverlap": false, "labelFlush": false, "title": null}}
          }
        },
        {
          "transform": [{"filter": {"field": "panel", "equal": "recpt"}}],
          "mark": {"type": "errorbar", "color": "black", "thickness": 1, "clip": true},
          "encoding": {
            "x": {"field": "pt", "type": "quantitative", "scale": {"domain": [0, 1.5], "nice": false, "zero": false},
                  "axis": {"orient": "bottom", "values": [0, 0.5, 1, 1.5], "labels": false, "tickSize": 15, "offset": -15, "title": null}},
            "y": {"field": "v", "type": "quantitative", "scale": {"domain": [-0.6, 0.6], "nice": false, "zero": false},
                  "axis": {"orient": "left", "values": [-0.6, -0.4, -0.2, 0, 0.2, 0.4, 0.6], "labels": false, "tickSize": 16, "offset": -16, "title": null}},
            "yError": {"field": "err"}
          }
        },
        {
          "transform": [{"filter": {"field": "panel", "equal": "recpt"}}],
          "mark": {"type": "point", "filled": true, "opacity": 1, "stroke": "black", "strokeWidth": 1},
          "encoding": {
            "x": {"field": "pt", "type": "quantitative", "scale": {"domain": [0, 1.5], "nice": false, "zero": false},
                  "axis": {"orient": "bottom", "values": [0.1, 0.2, 0.3, 0.4, 0.6, 0.7, 0.8, 0.9, 1.1, 1.2, 1.3, 1.4], "labels": false, "tickSize": 8, "offset": -8, "title": null}},
            "y": {"field": "v", "type": "quantitative", "scale": {"domain": [-0.6, 0.6], "nice": false, "zero": false},
                  "axis": {"orient": "left", "values": [-0.55, -0.5, -0.45, -0.35, -0.3, -0.25, -0.15, -0.1, -0.05, 0.05, 0.1, 0.15, 0.25, 0.3, 0.35, 0.45, 0.5, 0.55], "labels": false, "tickSize": 8, "offset": -8, "title": null}},
            "shape": {"field": "series", "scale": {"domain": ["open", "square", "up", "down", "circle"], "range": ["circle", "square", "triangle-up", "triangle-down", "circle"]}, "legend": null},
            "fill": {"field": "series", "scale": {"domain": ["open", "square", "up", "down", "circle"], "range": ["white", "black", "black", "black", "black"]}, "legend": null},
            "size": {"field": "series", "scale": {"domain": ["open", "square", "up", "down", "circle"], "range": [200, 240, 210, 210, 180]}, "legend": null}
          }
        },
        {
          "data": {"values": [{"label": "Reconstructed(P"}]},
          "mark": {"type": "text", "align": "left", "baseline": "alphabetic", "fontSize": 16.5},
          "encoding": {
            "x": {"datum": 0.102, "type": "quantitative", "scale": {"domain": [0, 1.5], "nice": false, "zero": false}, "axis": null},
            "y": {"datum": 0.386, "type": "quantitative", "scale": {"domain": [-0.6, 0.6], "nice": false, "zero": false}, "axis": null},
            "text": {"field": "label"}
          }
        },
        {
          "data": {"values": [{"label": "T"}]},
          "mark": {"type": "text", "align": "left", "baseline": "alphabetic", "fontSize": 13},
          "encoding": {
            "x": {"datum": 0.911, "type": "quantitative", "scale": {"domain": [0, 1.5], "nice": false, "zero": false}, "axis": null},
            "y": {"datum": 0.343, "type": "quantitative", "scale": {"domain": [-0.6, 0.6], "nice": false, "zero": false}, "axis": null},
            "text": {"field": "label"}
          }
        },
        {
          "data": {"values": [{"label": "-dep.)"}]},
          "mark": {"type": "text", "align": "left", "baseline": "alphabetic", "fontSize": 16.5},
          "encoding": {
            "x": {"datum": 0.958, "type": "quantitative", "scale": {"domain": [0, 1.5], "nice": false, "zero": false}, "axis": null},
            "y": {"datum": 0.386, "type": "quantitative", "scale": {"domain": [-0.6, 0.6], "nice": false, "zero": false}, "axis": null},
            "text": {"field": "label"}
          }
        },
        {
          "data": {"values": [{"label": "T"}]},
          "mark": {"type": "text", "align": "left", "baseline": "alphabetic", "fontSize": 21},
          "encoding": {
            "x": {"datum": 1.414, "type": "quantitative", "scale": {"domain": [0, 1.5], "nice": false, "zero": false}, "axis": null},
            "y": {"datum": -1.329, "type": "quantitative", "scale": {"domain": [-0.6, 0.6], "nice": false, "zero": false}, "axis": null},
            "text": {"field": "label"}
          }
        }
      ]
    }
  ]
}
